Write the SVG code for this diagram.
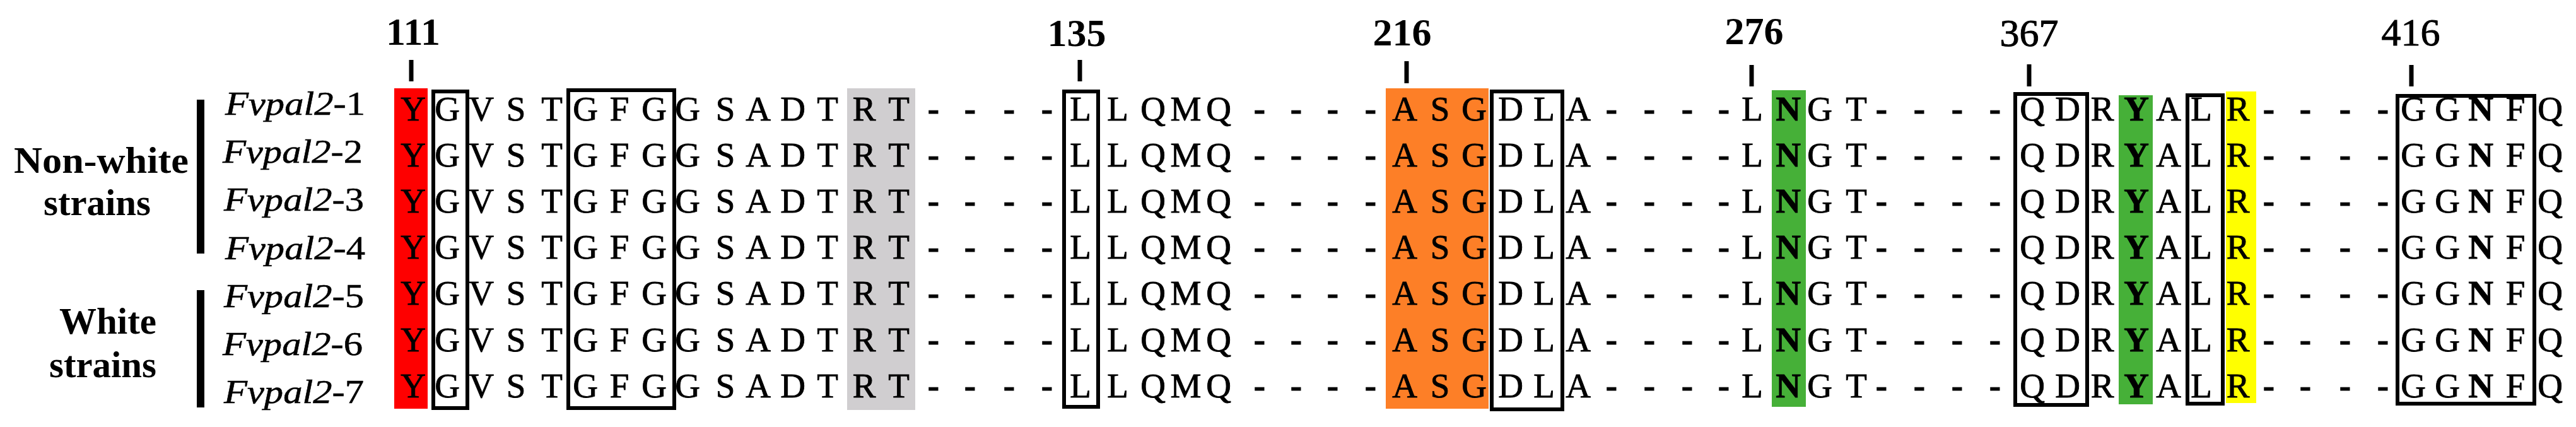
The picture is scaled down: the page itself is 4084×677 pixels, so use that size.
<svg xmlns="http://www.w3.org/2000/svg" width="4084" height="677" viewBox="0 0 4084 677">
<style>
.seq{font-family:"Liberation Serif","Times New Roman",serif;font-size:55px;fill:#000;stroke:#000;stroke-width:0.9;text-anchor:middle}
.b{font-weight:bold}
.lab{font-family:"Liberation Serif","Times New Roman",serif;font-size:53px;fill:#000;stroke:#000;stroke-width:0.6}
.grp{font-family:"Liberation Serif","Times New Roman",serif;font-size:59px;font-weight:bold;fill:#000}
.num{font-family:"Liberation Serif","Times New Roman",serif;font-size:62px;fill:#000;text-anchor:middle}
.reg{stroke:#000;stroke-width:1}
.box{fill:none;stroke:#000;stroke-width:6}
.tick{stroke:#000;stroke-width:7}
</style>
<rect width="4084" height="677" fill="#fff"/>
<g id="highlights">
<rect x="625" y="140" width="53" height="508" fill="#fe0000"/>
<rect x="1343" y="140" width="108" height="510" fill="#d0ced0"/>
<rect x="2197" y="140" width="163" height="508" fill="#fd7f27"/>
<rect x="2809" y="143" width="54" height="502" fill="#46b038"/>
<rect x="3359" y="151" width="54" height="490" fill="#46b038"/>
<rect x="3529" y="145" width="48" height="494" fill="#ffff00"/>
</g>
<g id="numbers">
<text class="num b" x="655" y="71">111</text>
<text class="num b" x="1707" y="73">135</text>
<text class="num b" x="2223" y="72">216</text>
<text class="num b" x="2781" y="70">276</text>
<text class="num reg" x="3217" y="73">367</text>
<text class="num reg" x="3822" y="72">416</text>
</g>
<g id="ticks">
<line class="tick" x1="652" y1="95" x2="652" y2="129"/>
<line class="tick" x1="1712" y1="95" x2="1712" y2="129"/>
<line class="tick" x1="2230" y1="97" x2="2230" y2="132"/>
<line class="tick" x1="2777" y1="103" x2="2777" y2="137"/>
<line class="tick" x1="3217" y1="102" x2="3217" y2="137"/>
<line class="tick" x1="3823" y1="103" x2="3823" y2="137"/>
</g>
<g id="groups">
<rect x="312" y="158" width="12" height="244" fill="#000"/>
<rect x="312" y="460" width="12" height="186" fill="#000"/>
<text class="grp" x="22" y="274" textLength="277" lengthAdjust="spacingAndGlyphs">Non-white</text>
<text class="grp" x="69" y="341" textLength="170" lengthAdjust="spacingAndGlyphs">strains</text>
<text class="grp" x="94" y="529" textLength="154" lengthAdjust="spacingAndGlyphs">White</text>
<text class="grp" x="78" y="598" textLength="170" lengthAdjust="spacingAndGlyphs">strains</text>
</g>
<g id="labels">
<text class="lab" x="357" y="182" textLength="222" lengthAdjust="spacingAndGlyphs"><tspan font-style="italic">Fvpal2</tspan>-1</text>
<text class="lab" x="353" y="258" textLength="222" lengthAdjust="spacingAndGlyphs"><tspan font-style="italic">Fvpal2</tspan>-2</text>
<text class="lab" x="355" y="334" textLength="222" lengthAdjust="spacingAndGlyphs"><tspan font-style="italic">Fvpal2</tspan>-3</text>
<text class="lab" x="357" y="411" textLength="222" lengthAdjust="spacingAndGlyphs"><tspan font-style="italic">Fvpal2</tspan>-4</text>
<text class="lab" x="355" y="487" textLength="222" lengthAdjust="spacingAndGlyphs"><tspan font-style="italic">Fvpal2</tspan>-5</text>
<text class="lab" x="353" y="563" textLength="222" lengthAdjust="spacingAndGlyphs"><tspan font-style="italic">Fvpal2</tspan>-6</text>
<text class="lab" x="355" y="639" textLength="222" lengthAdjust="spacingAndGlyphs"><tspan font-style="italic">Fvpal2</tspan>-7</text>
</g>
<g id="rows">
<text id="row-1" class="seq" y="191" x="655 709 763 818 875 928 982 1037 1090 1150 1202 1257 1312 1370 1425 1480 1538 1600 1660 1713 1772 1828 1880 1932 1997 2055 2113 2173 2227 2283 2337 2395 2448 2502 2555 2615 2675 2733 2778 2835 2885 2943 2983 3043 3103 3163 3222 3278 3333 3387 3438 3490 3548 3597 3655 3718 3778 3826 3880 3933 3988 4043">YGVSTGFGGSADTRT<tspan class="b">----</tspan>LLQMQ<tspan class="b">----</tspan>ASGDLA<tspan class="b">----</tspan>L<tspan class="b">N</tspan>GT<tspan class="b">----</tspan>QDR<tspan class="b">Y</tspan>ALR<tspan class="b">----</tspan>GG<tspan class="b">N</tspan>FQ</text>
<text id="row-2" class="seq" y="264" x="655 709 763 818 875 928 982 1037 1090 1150 1202 1257 1312 1370 1425 1480 1538 1600 1660 1713 1772 1828 1880 1932 1997 2055 2113 2173 2227 2283 2337 2395 2448 2502 2555 2615 2675 2733 2778 2835 2885 2943 2983 3043 3103 3163 3222 3278 3333 3387 3438 3490 3548 3597 3655 3718 3778 3826 3880 3933 3988 4043">YGVSTGFGGSADTRT<tspan class="b">----</tspan>LLQMQ<tspan class="b">----</tspan>ASGDLA<tspan class="b">----</tspan>L<tspan class="b">N</tspan>GT<tspan class="b">----</tspan>QDR<tspan class="b">Y</tspan>ALR<tspan class="b">----</tspan>GG<tspan class="b">N</tspan>FQ</text>
<text id="row-3" class="seq" y="337" x="655 709 763 818 875 928 982 1037 1090 1150 1202 1257 1312 1370 1425 1480 1538 1600 1660 1713 1772 1828 1880 1932 1997 2055 2113 2173 2227 2283 2337 2395 2448 2502 2555 2615 2675 2733 2778 2835 2885 2943 2983 3043 3103 3163 3222 3278 3333 3387 3438 3490 3548 3597 3655 3718 3778 3826 3880 3933 3988 4043">YGVSTGFGGSADTRT<tspan class="b">----</tspan>LLQMQ<tspan class="b">----</tspan>ASGDLA<tspan class="b">----</tspan>L<tspan class="b">N</tspan>GT<tspan class="b">----</tspan>QDR<tspan class="b">Y</tspan>ALR<tspan class="b">----</tspan>GG<tspan class="b">N</tspan>FQ</text>
<text id="row-4" class="seq" y="410" x="655 709 763 818 875 928 982 1037 1090 1150 1202 1257 1312 1370 1425 1480 1538 1600 1660 1713 1772 1828 1880 1932 1997 2055 2113 2173 2227 2283 2337 2395 2448 2502 2555 2615 2675 2733 2778 2835 2885 2943 2983 3043 3103 3163 3222 3278 3333 3387 3438 3490 3548 3597 3655 3718 3778 3826 3880 3933 3988 4043">YGVSTGFGGSADTRT<tspan class="b">----</tspan>LLQMQ<tspan class="b">----</tspan>ASGDLA<tspan class="b">----</tspan>L<tspan class="b">N</tspan>GT<tspan class="b">----</tspan>QDR<tspan class="b">Y</tspan>ALR<tspan class="b">----</tspan>GG<tspan class="b">N</tspan>FQ</text>
<text id="row-5" class="seq" y="483" x="655 709 763 818 875 928 982 1037 1090 1150 1202 1257 1312 1370 1425 1480 1538 1600 1660 1713 1772 1828 1880 1932 1997 2055 2113 2173 2227 2283 2337 2395 2448 2502 2555 2615 2675 2733 2778 2835 2885 2943 2983 3043 3103 3163 3222 3278 3333 3387 3438 3490 3548 3597 3655 3718 3778 3826 3880 3933 3988 4043">YGVSTGFGGSADTRT<tspan class="b">----</tspan>LLQMQ<tspan class="b">----</tspan>ASGDLA<tspan class="b">----</tspan>L<tspan class="b">N</tspan>GT<tspan class="b">----</tspan>QDR<tspan class="b">Y</tspan>ALR<tspan class="b">----</tspan>GG<tspan class="b">N</tspan>FQ</text>
<text id="row-6" class="seq" y="557" x="655 709 763 818 875 928 982 1037 1090 1150 1202 1257 1312 1370 1425 1480 1538 1600 1660 1713 1772 1828 1880 1932 1997 2055 2113 2173 2227 2283 2337 2395 2448 2502 2555 2615 2675 2733 2778 2835 2885 2943 2983 3043 3103 3163 3222 3278 3333 3387 3438 3490 3548 3597 3655 3718 3778 3826 3880 3933 3988 4043">YGVSTGFGGSADTRT<tspan class="b">----</tspan>LLQMQ<tspan class="b">----</tspan>ASGDLA<tspan class="b">----</tspan>L<tspan class="b">N</tspan>GT<tspan class="b">----</tspan>QDR<tspan class="b">Y</tspan>ALR<tspan class="b">----</tspan>GG<tspan class="b">N</tspan>FQ</text>
<text id="row-7" class="seq" y="630" x="655 709 763 818 875 928 982 1037 1090 1150 1202 1257 1312 1370 1425 1480 1538 1600 1660 1713 1772 1828 1880 1932 1997 2055 2113 2173 2227 2283 2337 2395 2448 2502 2555 2615 2675 2733 2778 2835 2885 2943 2983 3043 3103 3163 3222 3278 3333 3387 3438 3490 3548 3597 3655 3718 3778 3826 3880 3933 3988 4043">YGVSTGFGGSADTRT<tspan class="b">----</tspan>LLQMQ<tspan class="b">----</tspan>ASGDLA<tspan class="b">----</tspan>L<tspan class="b">N</tspan>GT<tspan class="b">----</tspan>QDR<tspan class="b">Y</tspan>ALR<tspan class="b">----</tspan>GG<tspan class="b">N</tspan>FQ</text>
</g>
<g id="boxes">
<rect class="box" x="687" y="145" width="54" height="502"/>
<rect class="box" x="901" y="143" width="168" height="504"/>
<rect class="box" x="1687" y="145" width="54" height="500"/>
<rect class="box" x="2365" y="145" width="112" height="504"/>
<rect class="box" x="3195" y="149" width="114" height="493"/>
<rect class="box" x="3468" y="151" width="56" height="489"/>
<rect class="box" x="3801" y="152" width="217" height="488"/>
</g>
</svg>
